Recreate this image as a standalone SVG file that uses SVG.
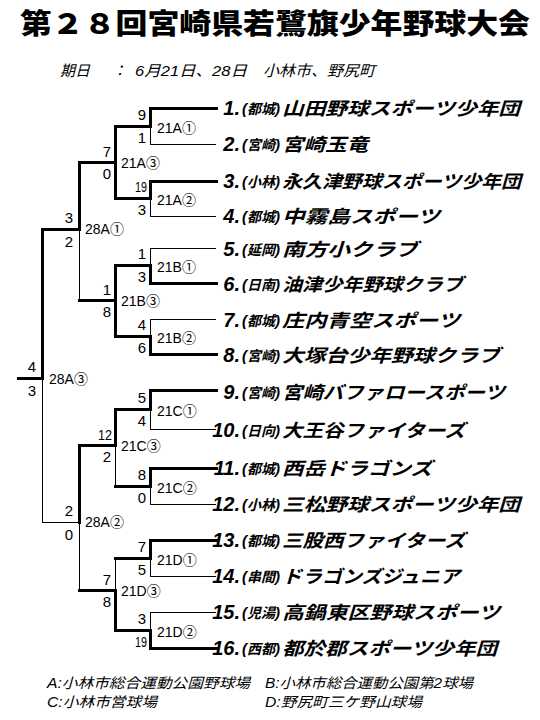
<svg xmlns="http://www.w3.org/2000/svg" width="540" height="720" viewBox="0 0 540 720">
<style>
.thin{stroke:#000;stroke-width:1;fill:none}
.thick{stroke:#000;stroke-width:3;fill:none;stroke-linecap:square}
.sc{font-family:"Liberation Sans",sans-serif;font-size:15px;text-anchor:end;fill:#000}
.ml{font-family:"Liberation Sans","Noto Sans CJK JP",sans-serif;font-size:14px;fill:#000}
.num{font-family:"Liberation Sans",sans-serif;font-weight:bold;font-style:italic;font-size:20px;text-anchor:end;fill:#000}
.pre{font-family:"Noto Sans CJK JP",sans-serif;font-weight:bold;font-style:italic;font-size:14px;fill:#000}
.pp{font-family:"Liberation Sans",sans-serif;font-size:15px}
.nm{font-family:"Noto Sans CJK JP",sans-serif;font-weight:bold;font-style:italic;font-size:18px;fill:#000}
.title{font-family:"Noto Sans CJK JP",sans-serif;font-weight:900;font-size:28px;fill:#000}
.sub{font-family:"Liberation Sans","Noto Sans CJK JP",sans-serif;font-style:italic;font-size:15px;fill:#000}
.leg{font-family:"Liberation Sans","Noto Sans CJK JP",sans-serif;font-style:italic;font-size:14px;fill:#000}
</style>
<rect width="540" height="720" fill="#fff"/>
<g id="title"><text class="title" x="20" y="34" textLength="510" lengthAdjust="spacingAndGlyphs">第２８回宮崎県若鷺旗少年野球大会</text></g>
<g id="subtitle">
<text class="sub" x="60" y="76">期日</text>
<text class="sub" x="112" y="76">：</text>
<text class="sub" x="135" y="76" textLength="112" lengthAdjust="spacingAndGlyphs">6月21日、28日</text>
<text class="sub" x="263" y="76" textLength="112" lengthAdjust="spacingAndGlyphs">小林市、野尻町</text>
</g>
<g id="connectors" shape-rendering="crispEdges">
<line class="thick" x1="150" y1="108" x2="216" y2="108"/><line class="thin" x1="150" y1="144" x2="216" y2="144"/>
<line class="thick" x1="150" y1="108" x2="150" y2="126"/><line class="thin" x1="150" y1="126" x2="150" y2="144"/>
<line class="thick" x1="115" y1="126" x2="150" y2="126"/>
<line class="thick" x1="150" y1="181" x2="216" y2="181"/><line class="thin" x1="150" y1="216" x2="216" y2="216"/>
<line class="thick" x1="150" y1="181" x2="150" y2="198"/><line class="thin" x1="150" y1="198" x2="150" y2="216"/>
<line class="thick" x1="115" y1="198" x2="150" y2="198"/>
<line class="thin" x1="150" y1="248" x2="216" y2="248"/><line class="thick" x1="150" y1="283" x2="216" y2="283"/>
<line class="thin" x1="150" y1="248" x2="150" y2="265"/><line class="thick" x1="150" y1="265" x2="150" y2="283"/>
<line class="thick" x1="115" y1="265" x2="150" y2="265"/>
<line class="thin" x1="150" y1="319" x2="216" y2="319"/><line class="thick" x1="150" y1="354" x2="216" y2="354"/>
<line class="thin" x1="150" y1="319" x2="150" y2="336"/><line class="thick" x1="150" y1="336" x2="150" y2="354"/>
<line class="thick" x1="115" y1="336" x2="150" y2="336"/>
<line class="thick" x1="150" y1="390" x2="216" y2="390"/><line class="thin" x1="150" y1="429" x2="216" y2="429"/>
<line class="thick" x1="150" y1="390" x2="150" y2="409"/><line class="thin" x1="150" y1="409" x2="150" y2="429"/>
<line class="thick" x1="115" y1="409" x2="150" y2="409"/>
<line class="thick" x1="150" y1="468" x2="216" y2="468"/><line class="thin" x1="150" y1="504" x2="216" y2="504"/>
<line class="thick" x1="150" y1="468" x2="150" y2="486"/><line class="thin" x1="150" y1="486" x2="150" y2="504"/>
<line class="thick" x1="115" y1="486" x2="150" y2="486"/>
<line class="thick" x1="150" y1="540" x2="216" y2="540"/><line class="thin" x1="150" y1="576" x2="216" y2="576"/>
<line class="thick" x1="150" y1="540" x2="150" y2="558"/><line class="thin" x1="150" y1="558" x2="150" y2="576"/>
<line class="thick" x1="115" y1="558" x2="150" y2="558"/>
<line class="thin" x1="150" y1="612" x2="216" y2="612"/><line class="thick" x1="150" y1="648" x2="216" y2="648"/>
<line class="thin" x1="150" y1="612" x2="150" y2="630"/><line class="thick" x1="150" y1="630" x2="150" y2="648"/>
<line class="thick" x1="115" y1="630" x2="150" y2="630"/>
<line class="thick" x1="115" y1="126" x2="115" y2="198"/>
<line class="thick" x1="79" y1="162" x2="115" y2="162"/>
<line class="thick" x1="115" y1="265" x2="115" y2="336"/>
<line class="thick" x1="79" y1="300" x2="115" y2="300"/>
<line class="thick" x1="115" y1="409" x2="115" y2="445"/><line class="thin" x1="115" y1="445" x2="115" y2="486"/>
<line class="thick" x1="79" y1="445" x2="115" y2="445"/>
<line class="thin" x1="115" y1="558" x2="115" y2="590"/><line class="thick" x1="115" y1="590" x2="115" y2="630"/>
<line class="thick" x1="79" y1="590" x2="115" y2="590"/>
<line class="thick" x1="79" y1="162" x2="79" y2="229"/><line class="thin" x1="79" y1="229" x2="79" y2="300"/>
<line class="thick" x1="42" y1="229" x2="79" y2="229"/>
<line class="thick" x1="79" y1="445" x2="79" y2="522"/><line class="thin" x1="79" y1="522" x2="79" y2="590"/>
<line class="thin" x1="42" y1="522" x2="79" y2="522"/>
<line class="thick" x1="42" y1="229" x2="42" y2="378"/><line class="thin" x1="42" y1="378" x2="42" y2="522"/>
<line class="thick" x1="18" y1="378" x2="42" y2="378"/>
<text class="sc" x="146" y="120">9</text><text class="sc" x="146" y="143">1</text>
<text class="sc" x="147" y="192" textLength="12" lengthAdjust="spacingAndGlyphs">19</text><text class="sc" x="146" y="215">3</text>
<text class="sc" x="146" y="259">1</text><text class="sc" x="146" y="282">3</text>
<text class="sc" x="146" y="330">4</text><text class="sc" x="146" y="353">6</text>
<text class="sc" x="146" y="403">5</text><text class="sc" x="146" y="426">4</text>
<text class="sc" x="146" y="480">8</text><text class="sc" x="146" y="503">0</text>
<text class="sc" x="146" y="552">7</text><text class="sc" x="146" y="575">5</text>
<text class="sc" x="146" y="624">3</text><text class="sc" x="147" y="647" textLength="12" lengthAdjust="spacingAndGlyphs">19</text>
<text class="sc" x="111" y="157">7</text><text class="sc" x="111" y="179">0</text>
<text class="sc" x="111" y="295">1</text><text class="sc" x="111" y="317">8</text>
<text class="sc" x="112" y="440" textLength="14" lengthAdjust="spacingAndGlyphs">12</text><text class="sc" x="111" y="462">2</text>
<text class="sc" x="111" y="585">7</text><text class="sc" x="111" y="607">8</text>
<text class="sc" x="73" y="223">3</text><text class="sc" x="73" y="247">2</text>
<text class="sc" x="73" y="516">2</text><text class="sc" x="73" y="540">0</text>
<text class="sc" x="36" y="372">4</text><text class="sc" x="36" y="396">3</text>
</g>
<g id="matches">
<g id="m21A1"><text class="ml" x="157" y="133">21A①</text></g>
<g id="m21A2"><text class="ml" x="157" y="205">21A②</text></g>
<g id="m21B1"><text class="ml" x="157" y="272">21B①</text></g>
<g id="m21B2"><text class="ml" x="157" y="343">21B②</text></g>
<g id="m21C1"><text class="ml" x="157" y="416">21C①</text></g>
<g id="m21C2"><text class="ml" x="157" y="493">21C②</text></g>
<g id="m21D1"><text class="ml" x="157" y="565">21D①</text></g>
<g id="m21D2"><text class="ml" x="157" y="637">21D②</text></g>
<g id="m21A3"><text class="ml" x="121" y="168">21A③</text></g>
<g id="m21B3"><text class="ml" x="121" y="306">21B③</text></g>
<g id="m21C3"><text class="ml" x="121" y="451">21C③</text></g>
<g id="m21D3"><text class="ml" x="121" y="596">21D③</text></g>
<g id="m28A1"><text class="ml" x="85" y="234">28A①</text></g>
<g id="m28A2"><text class="ml" x="85" y="527">28A②</text></g>
<g id="m28A3"><text class="ml" x="49" y="384">28A③</text></g>
</g>
<g id="teams">
<g id="team1"><text class="num" x="240" y="115">1.</text><text class="pre" y="114"><tspan class="pp" x="242">(</tspan><tspan x="247">都城</tspan><tspan class="pp" x="275">)</tspan></text><text class="nm" x="282" y="115" textLength="238" lengthAdjust="spacingAndGlyphs">山田野球スポーツ少年団</text></g>
<g id="team2"><text class="num" x="240" y="151">2.</text><text class="pre" y="150"><tspan class="pp" x="242">(</tspan><tspan x="247">宮崎</tspan><tspan class="pp" x="275">)</tspan></text><text class="nm" x="282" y="151" textLength="86" lengthAdjust="spacingAndGlyphs">宮崎玉竜</text></g>
<g id="team3"><text class="num" x="240" y="188">3.</text><text class="pre" y="187"><tspan class="pp" x="242">(</tspan><tspan x="247">小林</tspan><tspan class="pp" x="275">)</tspan></text><text class="nm" x="282" y="188" textLength="239" lengthAdjust="spacingAndGlyphs">永久津野球スポーツ少年団</text></g>
<g id="team4"><text class="num" x="240" y="223">4.</text><text class="pre" y="222"><tspan class="pp" x="242">(</tspan><tspan x="247">都城</tspan><tspan class="pp" x="275">)</tspan></text><text class="nm" x="282" y="223" textLength="158" lengthAdjust="spacingAndGlyphs">中霧島スポーツ</text></g>
<g id="team5"><text class="num" x="240" y="256">5.</text><text class="pre" y="255"><tspan class="pp" x="242">(</tspan><tspan x="247">延岡</tspan><tspan class="pp" x="275">)</tspan></text><text class="nm" x="282" y="256" textLength="136" lengthAdjust="spacingAndGlyphs">南方小クラブ</text></g>
<g id="team6"><text class="num" x="240" y="291">6.</text><text class="pre" y="290"><tspan class="pp" x="242">(</tspan><tspan x="247">日南</tspan><tspan class="pp" x="275">)</tspan></text><text class="nm" x="282" y="291" textLength="181" lengthAdjust="spacingAndGlyphs">油津少年野球クラブ</text></g>
<g id="team7"><text class="num" x="240" y="327">7.</text><text class="pre" y="326"><tspan class="pp" x="242">(</tspan><tspan x="247">都城</tspan><tspan class="pp" x="275">)</tspan></text><text class="nm" x="282" y="327" textLength="178" lengthAdjust="spacingAndGlyphs">庄内青空スポーツ</text></g>
<g id="team8"><text class="num" x="240" y="362">8.</text><text class="pre" y="361"><tspan class="pp" x="242">(</tspan><tspan x="247">宮崎</tspan><tspan class="pp" x="275">)</tspan></text><text class="nm" x="282" y="362" textLength="218" lengthAdjust="spacingAndGlyphs">大塚台少年野球クラブ</text></g>
<g id="team9"><text class="num" x="240" y="399">9.</text><text class="pre" y="398"><tspan class="pp" x="242">(</tspan><tspan x="247">宮崎</tspan><tspan class="pp" x="275">)</tspan></text><text class="nm" x="282" y="399" textLength="223" lengthAdjust="spacingAndGlyphs">宮崎バファロースポーツ</text></g>
<g id="team10"><text class="num" x="240" y="437">10.</text><text class="pre" y="436"><tspan class="pp" x="242">(</tspan><tspan x="247">日向</tspan><tspan class="pp" x="275">)</tspan></text><text class="nm" x="282" y="437" textLength="183" lengthAdjust="spacingAndGlyphs">大王谷ファイターズ</text></g>
<g id="team11"><text class="num" x="240" y="475">11.</text><text class="pre" y="474"><tspan class="pp" x="242">(</tspan><tspan x="247">都城</tspan><tspan class="pp" x="275">)</tspan></text><text class="nm" x="282" y="475" textLength="150" lengthAdjust="spacingAndGlyphs">西岳ドラゴンズ</text></g>
<g id="team12"><text class="num" x="240" y="511">12.</text><text class="pre" y="510"><tspan class="pp" x="242">(</tspan><tspan x="247">小林</tspan><tspan class="pp" x="275">)</tspan></text><text class="nm" x="282" y="511" textLength="238" lengthAdjust="spacingAndGlyphs">三松野球スポーツ少年団</text></g>
<g id="team13"><text class="num" x="240" y="547">13.</text><text class="pre" y="546"><tspan class="pp" x="242">(</tspan><tspan x="247">都城</tspan><tspan class="pp" x="275">)</tspan></text><text class="nm" x="282" y="547" textLength="183" lengthAdjust="spacingAndGlyphs">三股西ファイターズ</text></g>
<g id="team14"><text class="num" x="240" y="583">14.</text><text class="pre" y="582"><tspan class="pp" x="242">(</tspan><tspan x="247">串間</tspan><tspan class="pp" x="275">)</tspan></text><text class="nm" x="282" y="583" textLength="178" lengthAdjust="spacingAndGlyphs">ドラゴンズジュニア</text></g>
<g id="team15"><text class="num" x="240" y="619">15.</text><text class="pre" y="618"><tspan class="pp" x="242">(</tspan><tspan x="247">児湯</tspan><tspan class="pp" x="275">)</tspan></text><text class="nm" x="282" y="619" textLength="218" lengthAdjust="spacingAndGlyphs">高鍋東区野球スポーツ</text></g>
<g id="team16"><text class="num" x="240" y="655">16.</text><text class="pre" y="654"><tspan class="pp" x="242">(</tspan><tspan x="247">西都</tspan><tspan class="pp" x="275">)</tspan></text><text class="nm" x="282" y="655" textLength="215" lengthAdjust="spacingAndGlyphs">都於郡スポーツ少年団</text></g>
</g>
<g id="legend">
<text class="leg" x="47" y="688" textLength="203" lengthAdjust="spacingAndGlyphs">A:小林市総合運動公園野球場</text>
<text class="leg" x="265" y="688" textLength="208" lengthAdjust="spacingAndGlyphs">B:小林市総合運動公園第2球場</text>
<text class="leg" x="47" y="707" textLength="110" lengthAdjust="spacingAndGlyphs">C:小林市営球場</text>
<text class="leg" x="265" y="707" textLength="157" lengthAdjust="spacingAndGlyphs">D:野尻町三ケ野山球場</text>
</g>
</svg>
